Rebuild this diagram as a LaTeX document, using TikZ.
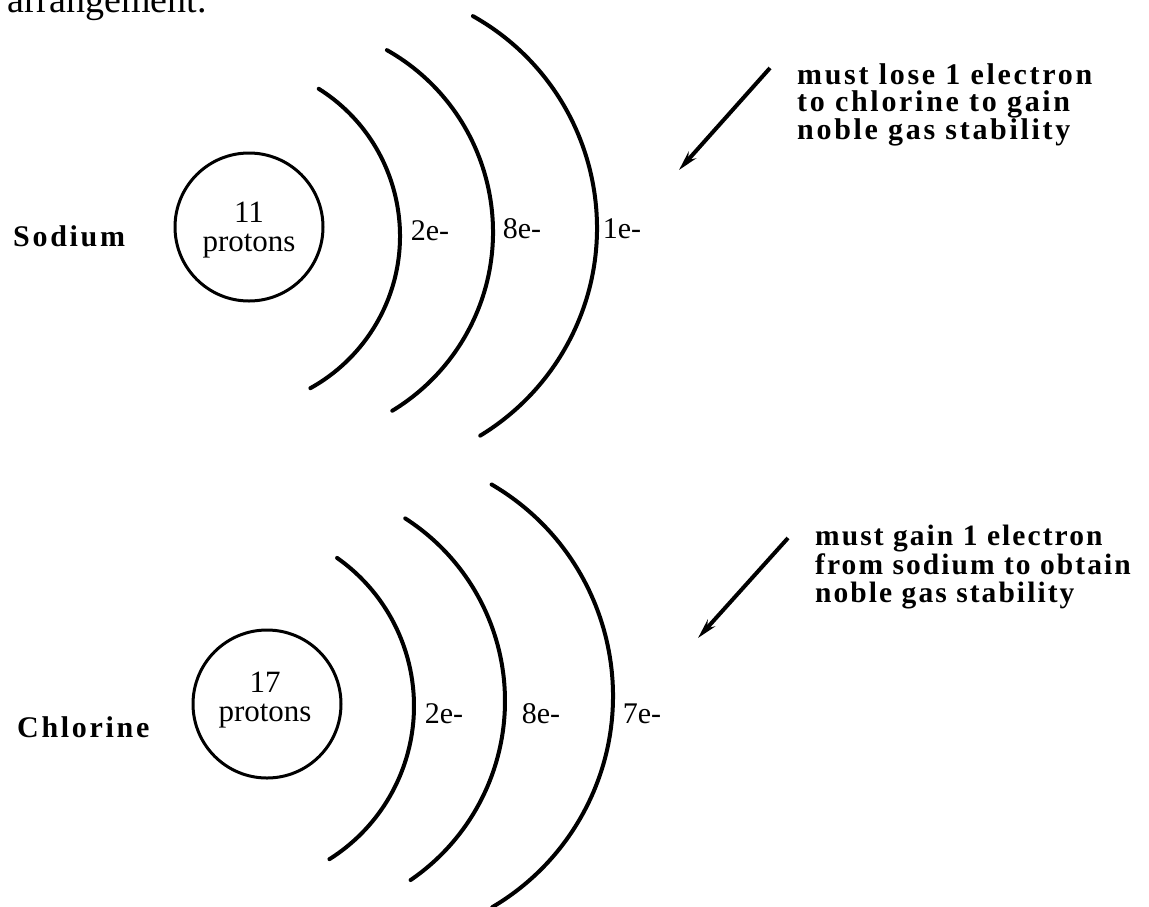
\documentclass[tikz,border=0pt]{standalone}
\usepackage{fontspec}
\setmainfont{Liberation Serif}
\newfontfamily\trackedserif[LetterSpace=9]{Liberation Serif}
\newfontfamily\trackedserifb[LetterSpace=7]{Liberation Serif}
\usetikzlibrary{arrows.meta}
\begin{document}
\begin{tikzpicture}[x=1pt,y=1pt,
  shell/.style={line width=4pt, line cap=round},
  nucleus/.style={draw, circle, line width=3pt, minimum size=148pt, inner sep=0pt},
  nuctext/.style={font=\fontsize{31}{29}\selectfont, align=center, inner sep=0pt, anchor=north},
  lab/.style={font=\fontsize{30}{30}\selectfont, inner sep=0pt},
  elem/.style={font=\trackedserif\bfseries\fontsize{30}{30}\selectfont, inner sep=0pt, anchor=base west},
  note/.style={font=\trackedserif\bfseries\fontsize{30}{27.5}\selectfont, align=left, inner sep=0pt, anchor=north west},
  noteb/.style={font=\trackedserifb\bfseries\fontsize{29.5}{28.5}\selectfont, align=left, inner sep=0pt, anchor=north west},
  pointer/.style={line width=4pt, -{Stealth[length=20pt,width=10pt]}}]
\fill[white] (0,0) rectangle (1149,-906);
\useasboundingbox (0,0) rectangle (1149,-906);
\begin{scope}
\clip (0,0) rectangle (1149,-906);
\node[font=\fontsize{38}{38}\selectfont, inner sep=0pt, anchor=base west] (intro) at (7,-12) {arrangement.};
% Sodium
\node[elem] (sodium) at (13,-246) {Sodium};
\node[nucleus] (naNuc) at (249,-227) {};
\node[nuctext] (naTxt) at (249,-202) {11\\protons};
\draw[shell] ([shift={(57.8:174)}]226,-236) arc[start angle=57.8, end angle=-61, radius=174];
\draw[shell] ([shift={(60.5:209)}]284,-232) arc[start angle=60.5, end angle=-58.8, radius=209];
\draw[shell] ([shift={(60.7:243)}]354,-228) arc[start angle=60.7, end angle=-58.7, radius=243];
\node[lab] (na1) at (430,-231) {2e-};
\node[lab] (na2) at (522,-229) {8e-};
\node[lab] (na3) at (622,-229) {1e-};
\node[note] (naNote) at (797,-63) {must lose 1 electron\\to chlorine to gain\\noble gas stability};
\coordinate (naTail) at (770,-68);
\coordinate (naTip) at (679,-170);
\draw[pointer] (naTail) -- (naTip);
% Chlorine
\node[elem] (chlorine) at (17,-737) {Chlorine};
\node[nucleus] (clNuc) at (267,-704) {};
\node[nuctext] (clTxt) at (265,-672) {17\\protons};
\draw[shell] ([shift={(54.9:181)}]233,-706) arc[start angle=54.9, end angle=-57.8, radius=181];
\draw[shell] ([shift={(57.3:217)}]288,-701) arc[start angle=57.3, end angle=-55.6, radius=217];
\draw[shell] ([shift={(59.7:245)}]368,-696) arc[start angle=59.7, end angle=-59.5, radius=245];
\node[lab] (cl1) at (444,-714) {2e-};
\node[lab] (cl2) at (541,-714) {8e-};
\node[lab] (cl3) at (642,-714) {7e-};
\node[noteb] (clNote) at (815,-525) {must gain 1 electron\\from sodium to obtain\\noble gas stability};
\coordinate (clTail) at (788,-538);
\coordinate (clTip) at (698,-638);
\draw[pointer] (clTail) -- (clTip);
\end{scope}
\end{tikzpicture}
\end{document}
